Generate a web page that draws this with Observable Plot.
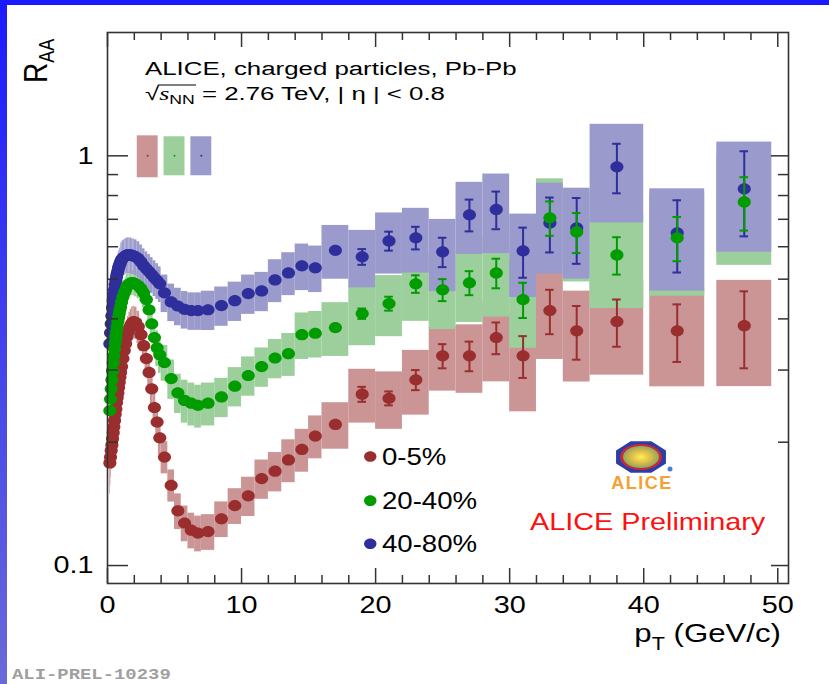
<!DOCTYPE html>
<html>
<head>
<meta charset="utf-8">
<script src="https://cdn.jsdelivr.net/npm/d3@7"></script>
<script src="https://cdn.jsdelivr.net/npm/@observablehq/plot@0.6"></script>
<style>
html,body{margin:0;padding:0;background:#fff;}
#wrap{position:relative;width:829px;height:684px;overflow:hidden;background:#fff;}
#chart svg{position:absolute;left:0;top:0;}
#topbar{position:absolute;left:0;top:0;width:829px;height:5px;background:#1a1aff;}
#leftbar{position:absolute;left:0;top:0;width:7px;height:684px;background:linear-gradient(#1a1aff,#6a6ad8);}
</style>
</head>
<body>
<div id="wrap"><div id="chart"></div><div id="topbar"></div><div id="leftbar"></div></div>
<script>
// ---------------- data ----------------
const binEdges = [0.15,0.2,0.25,0.3,0.35,0.4,0.45,0.5,0.55,0.6,0.65,0.7,0.75,0.8,0.85,0.9,0.95,1.0,
  1.1,1.2,1.3,1.4,1.5,1.6,1.7,1.8,1.9,2.0,
  2.2,2.4,2.6,2.8,3.0,3.2,3.4,3.6,3.8,4.0,
  4.5,5.0,5.5,6.0,6.5,7.0,
  8,9,10,11,12,13,14,15,16,
  18,20,22,24,26,28,30,32,34,36,40,45,50];

const centralities = ["0-5%","20-40%","40-80%"];

const raa05 = [0.178,0.184,0.191,0.197,0.204,0.211,0.218,0.226,0.234,0.241,0.250,0.257,0.264,0.272,0.280,0.288,0.296,
  0.306,0.320,0.335,0.348,0.362,0.372,0.381,0.387,0.392,0.394,
  0.392,0.383,0.366,0.344,0.320,0.296,0.270,0.243,0.224,0.205,
  0.184,0.157,0.136,0.127,0.122,0.120,
  0.121,0.130,0.140,0.148,0.163,0.170,0.181,0.192,0.207,
  0.221,0.262,0.256,0.284,0.325,0.325,0.360,0.325,0.419,0.374,
  0.394,0.374,0.385];
const sysPct05 = [16,15,14,13,12,12,12,11,11,11,11,10,10,10,10,10,10,
  9,9,9,9,9,9,9,9,9,9,
  9,9,9,9,9,9,9,9,9,9,
  9,9,10,10,10,10,
  10,10,10,11,11,11,12,12,12,
  13,15,16,18,18,19,22,27,24,25,
  26,27,29];
// statistical errors for the 12 highest bins (19 ... 47.5 GeV/c)
const stat05 = [0.011,0.010,0.016,0.022,0.027,0.032,0.038,0.052,0.056,0.052,0.060,0.082];

const raa2040 = [0.239,0.255,0.270,0.284,0.299,0.313,0.325,0.338,0.350,0.362,0.372,0.383,0.394,0.403,0.412,0.421,0.428,
  0.440,0.453,0.463,0.471,0.480,0.485,0.487,0.490,0.490,0.490,
  0.487,0.482,0.474,0.463,0.446,0.421,0.389,0.360,0.340,0.327,
  0.313,0.286,0.264,0.253,0.249,0.246,
  0.249,0.258,0.274,0.291,0.306,0.321,0.329,0.366,0.369,
  0.381,0.412,0.436,0.487,0.471,0.490,0.518,0.446,0.706,0.652,
  0.573,0.631,0.772];
const sysPct2040 = [14,13,12,11,11,10,10,10,9,9,9,8,8,8,8,8,8,
  7,7,7,7,7,7,7,7,7,7,
  7,7,7,8,8,8,9,9,10,10,
  10,11,11,12,12,12,
  12,11,11,11,11,11,12,13,13,
  15,16.5,17,19,20,20,22,24,24.5,24.5,
  26,28,30];
const stat2040 = [0.012,0.017,0.024,0.029,0.033,0.043,0.044,0.068,0.073,0.060,0.078,0.115];

const raa4080 = [0.348,0.370,0.389,0.407,0.426,0.443,0.458,0.471,0.485,0.496,0.507,0.516,0.524,0.533,0.539,0.545,0.551,
  0.558,0.564,0.567,0.570,0.573,0.573,0.573,0.573,0.570,0.570,
  0.567,0.561,0.551,0.539,0.530,0.522,0.513,0.504,0.496,0.487,
  0.463,0.440,0.430,0.422,0.419,0.419,
  0.421,0.431,0.443,0.461,0.468,0.498,0.518,0.539,0.533,
  0.588,0.567,0.620,0.631,0.583,0.718,0.740,0.586,0.686,0.667,
  0.940,0.649,0.831];
const sysPct4080 = [12,11,10,10,10,9,9,9,9,9,9,9,9,9,9,9,9,
  10,10,10,10,10,10,10,10,10,10,
  10,10,10,10,10,10,10,10,10,10,
  10.5,10.5,10.5,10.5,10.5,10.5,
  11,11,11,11,11,12,12,13,13,
  15,16,17,18,20,20,22,23,25,25,
  27,28,30];
const stat4080 = [0.025,0.033,0.040,0.048,0.064,0.078,0.082,0.105,0.122,0.130,0.130,0.195];

// normalisation uncertainty boxes (top left)
const normX = [3.0, 5.0, 7.0];
const normLo = [0.884, 0.894, 0.894];
const normHi = [1.119, 1.113, 1.113];

// legend rows
const legendY = [0.1845, 0.144, 0.113];

// axis ticks
const xMajor = [0,10,20,30,40,50];
const xMinor = [2,4,6,8,12,14,16,18,22,24,26,28,32,34,36,38,42,44,46,48];
const yMajor = [0.1, 1];
const yMinor = [0.2,0.3,0.4,0.5,0.6,0.7,0.8,0.9];

// ---------------- styling ----------------
const FONT = "'Liberation Sans', Arial, Helvetica, sans-serif";
const markerColor = ["#9a2e2e", "#009c00", "#2e2e9c"];
const boxColor = ["#cb9595", "#9ccf9c", "#9a9acc"];
const W = 829, H = 684, ML = 107, MR = 41, MT = 32, MB = 101;
const FW = W - ML - MR, FH = H - MT - MB;
const SX = 1.2; // the original figure is horizontally stretched

const nBins = binEdges.length - 1;
function rows(raa, sysPct, stat) {
  return raa.map((r, i) => {
    const lo = binEdges[i], hi = binEdges[i + 1], c = (lo + hi) / 2;
    const k = i - (nBins - stat.length);
    return {pT: c, lo, hi, R: r, sys: r * sysPct[i] / 100, stat: k >= 0 ? stat[k] : null};
  });
}
const series = [rows(raa05, sysPct05, stat05), rows(raa2040, sysPct2040, stat2040), rows(raa4080, sysPct4080, stat4080)];

const ellipse = {
  draw(ctx, size) {
    const r = Math.sqrt(size / Math.PI), a = r * 1.17, b = r, k = 0.5522847498;
    ctx.moveTo(a, 0);
    ctx.bezierCurveTo(a, k * b, k * a, b, 0, b);
    ctx.bezierCurveTo(-k * a, b, -a, k * b, -a, 0);
    ctx.bezierCurveTo(-a, -k * b, -k * a, -b, 0, -b);
    ctx.bezierCurveTo(k * a, -b, a, -k * b, a, 0);
    ctx.closePath();
  }
};

const boxMarks = series.map((s, j) => Plot.rect(s, {
  x1: d => Math.max(d.lo, d.pT - 2.05), x2: d => Math.min(d.hi, d.pT + 2.05),
  y1: d => d.R - d.sys, y2: d => d.R + d.sys, fill: boxColor[j]
}));

const normRows = normX.map((x, j) => ({x, lo: normLo[j], hi: normHi[j], j}));
const normMarks = [
  Plot.rect(normRows, {x1: d => d.x - 0.78, x2: d => d.x + 0.78, y1: "lo", y2: "hi", fill: d => boxColor[d.j]}),
  Plot.dot(normRows, {x: "x", y: 1, r: 1, fill: d => markerColor[d.j]})
];

const errMarks = [];
[0, 2, 1].forEach(j => {
  const e = series[j].filter(d => d.stat != null);
  errMarks.push(
    Plot.ruleX(e, {x: "pT", y1: d => d.R - d.stat, y2: d => d.R + d.stat, stroke: markerColor[j], strokeWidth: 2}),
    Plot.ruleY(e, {y: d => d.R + d.stat, x1: d => d.pT - 0.32, x2: d => d.pT + 0.32, stroke: markerColor[j], strokeWidth: 2}),
    Plot.ruleY(e, {y: d => d.R - d.stat, x1: d => d.pT - 0.32, x2: d => d.pT + 0.32, stroke: markerColor[j], strokeWidth: 2}),
    Plot.dot(series[j], {x: "pT", y: "R", r: 5.6, symbol: ellipse, fill: markerColor[j]})
  );
});

const legendRows = centralities.map((c, j) => ({c, y: legendY[j], j}));

const tickStyle = {stroke: "#333", strokeWidth: 1.5};
const chart = Plot.plot({
  width: W, height: H,
  marginLeft: ML, marginRight: MR, marginTop: MT, marginBottom: MB,
  style: {fontFamily: FONT, background: "white", color: "black"},
  x: {domain: [0, 50.8]},
  y: {type: "log", domain: [0.0904, 2.0]},
  marks: [
    ...boxMarks,
    ...normMarks,
    ...errMarks,
    Plot.dot(legendRows, {x: 19.6, y: "y", r: 5.3, symbol: ellipse, fill: d => markerColor[d.j]}),
    Plot.frame({stroke: "#333", strokeWidth: 1.6}),
    Plot.ruleX(xMajor, {insetTop: FH - 15, ...tickStyle}),
    Plot.ruleX(xMinor, {insetTop: FH - 8, ...tickStyle}),
    Plot.ruleX(xMajor, {insetBottom: FH - 15, ...tickStyle}),
    Plot.ruleX(xMinor, {insetBottom: FH - 8, ...tickStyle}),
    Plot.ruleY(yMajor, {insetRight: FW - 21, ...tickStyle}),
    Plot.ruleY(yMinor, {insetRight: FW - 11, ...tickStyle}),
    Plot.ruleY(yMajor, {insetLeft: FW - 17, ...tickStyle}),
    Plot.ruleY(yMinor, {insetLeft: FW - 10, ...tickStyle}),
    Plot.axisX({ticks: xMajor, tickSize: 0, tickPadding: 12, fontSize: 24, label: null, tickFormat: d => String(d)}),
    Plot.axisY({ticks: yMajor, tickSize: 0, tickPadding: 14, fontSize: 24, label: null, tickFormat: d => d === 1 ? "1" : "0.1"})
  ]
});
document.getElementById("chart").appendChild(chart);

// stretch axis labels horizontally like the original
d3.select(chart).selectAll("g[aria-label$='tick label'] text").each(function () {
  const t = this.getAttribute("transform");
  if (t) this.setAttribute("transform", t + ` scale(${SX},1)`);
  else {
    const x = +this.getAttribute("x") || 0, y = +this.getAttribute("y") || 0;
    this.setAttribute("x", 0); this.setAttribute("y", 0);
    this.setAttribute("transform", `translate(${x},${y}) scale(${SX},1)`);
  }
});

// ---------------- annotations ----------------
const svg = d3.select(chart);
const ann = svg.append("g").attr("font-family", FONT).attr("fill", "black").attr("text-anchor", "start");
function label(x, y, size, sx = SX) {
  return ann.append("g").attr("transform", `translate(${x},${y}) scale(${sx},1)`)
    .append("text").attr("font-size", size).attr("text-anchor", "start");
}

// y axis title R_AA (rotated)
const ry = ann.append("g").attr("transform", `translate(47,83) rotate(-90) scale(1,${SX})`)
  .append("text").attr("font-size", 28).attr("text-anchor", "start");
ry.append("tspan").text("R");
ry.append("tspan").attr("font-size", 18).attr("dy", 6).text("AA");

// x axis title
const px = ann.append("g").attr("transform", `translate(781,642) scale(${SX},1)`)
  .append("text").attr("font-size", 26).attr("text-anchor", "end");
px.append("tspan").text("p");
px.append("tspan").attr("font-size", 18).attr("dy", 8).text("T");
px.append("tspan").attr("dy", -8).text(" (GeV/c)");

// system labels
const HX = 1.36;
label(145, 75, 19, HX).text("ALICE, charged particles, Pb-Pb");
const l2 = label(145, 100, 19, HX);
l2.append("tspan").text("\u221A");
l2.append("tspan").attr("font-family", "'Liberation Serif', 'Times New Roman', serif").attr("font-style", "italic").text("s");
l2.append("tspan").attr("font-size", 13).attr("dy", 4).text("NN");
l2.append("tspan").attr("dy", -4).text(" = 2.76 TeV, | \u03B7 | < 0.8");
{
  const n = l2.node();
  const x0 = n.getSubStringLength(0, 1) - 1, x1 = n.getSubStringLength(0, 4) + 1;
  d3.select(n.parentNode).append("line").attr("x1", x0).attr("x2", x1)
    .attr("y1", -15).attr("y2", -15).attr("stroke", "black").attr("stroke-width", 1.1);
}

// legend labels
legendRows.forEach(d => {
  const yy = chart.scale("y").apply(d.y);
  label(382, yy + 8.5, 23).text(d.c);
});

// ALICE Preliminary
label(530, 530, 24).attr("fill", "#ff1010").text("ALICE Preliminary");

// ALICE logo
{
  const lg = ann.append("g").attr("transform", "translate(641,457)");
  const oct = d3.range(8).map(i => {
    const a = Math.PI / 8 + i * Math.PI / 4;
    return [27 * Math.cos(a), 17 * Math.sin(a)];
  });
  const defs = svg.append("defs");
  const rg = defs.append("radialGradient").attr("id", "burst");
  rg.append("stop").attr("offset", "0%").attr("stop-color", "#ffee55");
  rg.append("stop").attr("offset", "60%").attr("stop-color", "#d8b84a");
  rg.append("stop").attr("offset", "100%").attr("stop-color", "#8aa860");
  lg.append("polygon").attr("points", oct.map(p => p.join(",")).join(" ")).attr("fill", "#2b3ea8");
  lg.append("ellipse").attr("rx", 21).attr("ry", 13).attr("fill", "#c8283a");
  lg.append("ellipse").attr("rx", 18).attr("ry", 11).attr("fill", "url(#burst)");
  lg.append("circle").attr("cx", 29).attr("cy", 12).attr("r", 2.5).attr("fill", "#4a7fd0");
  ann.append("text").attr("x", 642).attr("y", 489).attr("text-anchor", "middle")
    .attr("font-size", 18).attr("font-weight", "bold").attr("fill", "#f5a030")
    .attr("letter-spacing", 1.5).text("ALICE");
}

// figure id
label(12, 679, 14, 1.35).attr("font-family", "'Liberation Mono', 'DejaVu Sans Mono', monospace")
  .attr("font-weight", "bold").attr("fill", "#a0a0a0").text("ALI-PREL-10239");
</script>
</body>
</html>
